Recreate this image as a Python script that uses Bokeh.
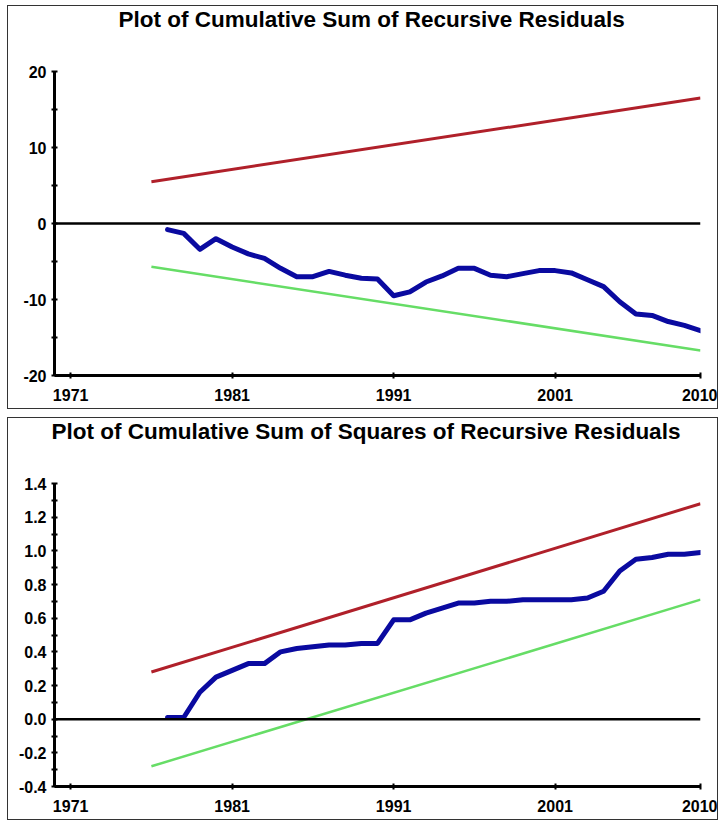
from bokeh.plotting import figure
from bokeh.models import Range1d, FixedTicker, Span, Title
from bokeh.layouts import column
from bokeh.embed import file_html
from bokeh.resources import INLINE

# ---- data ----
years = list(range(1977, 2011))
cusum = [-0.8, -1.3, -3.4, -2.0, -3.1, -4.0, -4.6, -5.9, -7.0, -7.0,
         -6.3, -6.8, -7.2, -7.3, -9.5, -9.0, -7.7, -6.9, -5.9, -5.9,
         -6.8, -7.0, -6.6, -6.2, -6.2, -6.5, -7.4, -8.3, -10.3, -11.9,
         -12.1, -12.9, -13.4, -14.1]
cusumsq = [0.01, 0.01, 0.16, 0.25, 0.29, 0.33, 0.33, 0.40, 0.42, 0.43,
           0.44, 0.44, 0.45, 0.45, 0.59, 0.59, 0.63, 0.66, 0.69, 0.69,
           0.70, 0.70, 0.71, 0.71, 0.71, 0.71, 0.72, 0.76, 0.88, 0.95,
           0.96, 0.98, 0.98, 0.99]
bound_years = [1976, 2010]
cusum_upper = [5.5, 16.5]
cusum_lower = [-5.7, -16.7]
sq_upper = [0.28, 1.28]
sq_lower = [-0.28, 0.71]

x_ticks = [1971, 1981, 1991, 2001, 2010]
cusum_major = [-20, -10, 0, 10, 20]
cusum_minor = [-15, -5, 5, 15]
sq_major = [-0.4, -0.2, 0.0, 0.2, 0.4, 0.6, 0.8, 1.0, 1.2, 1.4]
sq_minor = [-0.3, -0.1, 0.1, 0.3, 0.5, 0.7, 0.9, 1.1, 1.3]

titles = ["Plot of Cumulative Sum of Recursive Residuals",
          "Plot of Cumulative Sum of Squares of Recursive Residuals"]

FONT = "Liberation Sans"
RED = "#b0202a"
BLUE = "#0a0aa0"
GREEN = "#66dd66"


def make_panel(title, title_offset, y_range, major, minor, fmt, height, top,
               bottom, left, margin, ys, up, lo):
    p = figure(width=711, height=height, output_backend="svg",
               toolbar_location=None, x_range=Range1d(1970, 2010),
               y_range=Range1d(*y_range), min_border_top=top,
               min_border_bottom=bottom, min_border_left=left,
               min_border_right=19, margin=margin,
               styles={"border": "1.5px solid #333", "box-sizing": "border-box"})
    # spacer between the frame and the title (closest to the frame)
    p.add_layout(Title(text=" ", text_font_size="1px", standoff=35), "above")
    p.add_layout(Title(text=title, text_font=FONT, text_font_size="22.5px",
                       text_font_style="bold", text_color="black",
                       align="left", vertical_align="top",
                       offset=title_offset, standoff=0), "above")
    p.outline_line_color = None
    p.grid.visible = False
    p.background_fill_color = "white"
    p.border_fill_color = "white"

    for ax in (p.xaxis[0], p.yaxis[0]):
        ax.axis_line_width = 3
        ax.axis_line_color = "black"
        ax.major_tick_line_width = 2
        ax.minor_tick_line_width = 2
        ax.major_tick_in = 3
        ax.major_tick_out = 3
        ax.minor_tick_in = 3
        ax.minor_tick_out = 3
        ax.major_label_text_font = FONT
        ax.major_label_text_font_size = "16px"
        ax.major_label_text_font_style = "bold"
        ax.major_label_text_color = "black"

    p.xaxis.ticker = FixedTicker(ticks=x_ticks, minor_ticks=[])
    p.xaxis.major_label_standoff = 10
    p.yaxis.ticker = FixedTicker(ticks=major, minor_ticks=minor)
    p.yaxis.major_label_overrides = {v: fmt(v) for v in major}
    p.yaxis.major_label_standoff = 5

    p.add_layout(Span(location=0, dimension="width", line_color="black",
                      line_width=2.5))
    p.line(bound_years, up, line_color=RED, line_width=3)
    p.line(bound_years, lo, line_color=GREEN, line_width=2.5)
    p.line(years, ys, line_color=BLUE, line_width=5, line_join="round",
           line_cap="round")
    return p


p1 = make_panel(titles[0], 64, (-20, 20), cusum_major, cusum_minor,
                lambda v: "%d" % v, 404, 64, 35, 41, (5, 0, 0, 7),
                cusum, cusum_upper, cusum_lower)
p2 = make_panel(titles[1], -3, (-0.4, 1.4), sq_major, sq_minor,
                lambda v: "%.1f" % v, 403, 64, 35, 46, (0, 0, 0, 7),
                cusumsq, sq_upper, sq_lower)

layout = column(p1, p2, spacing=8)
open("out.html", "w").write(file_html(layout, INLINE))
